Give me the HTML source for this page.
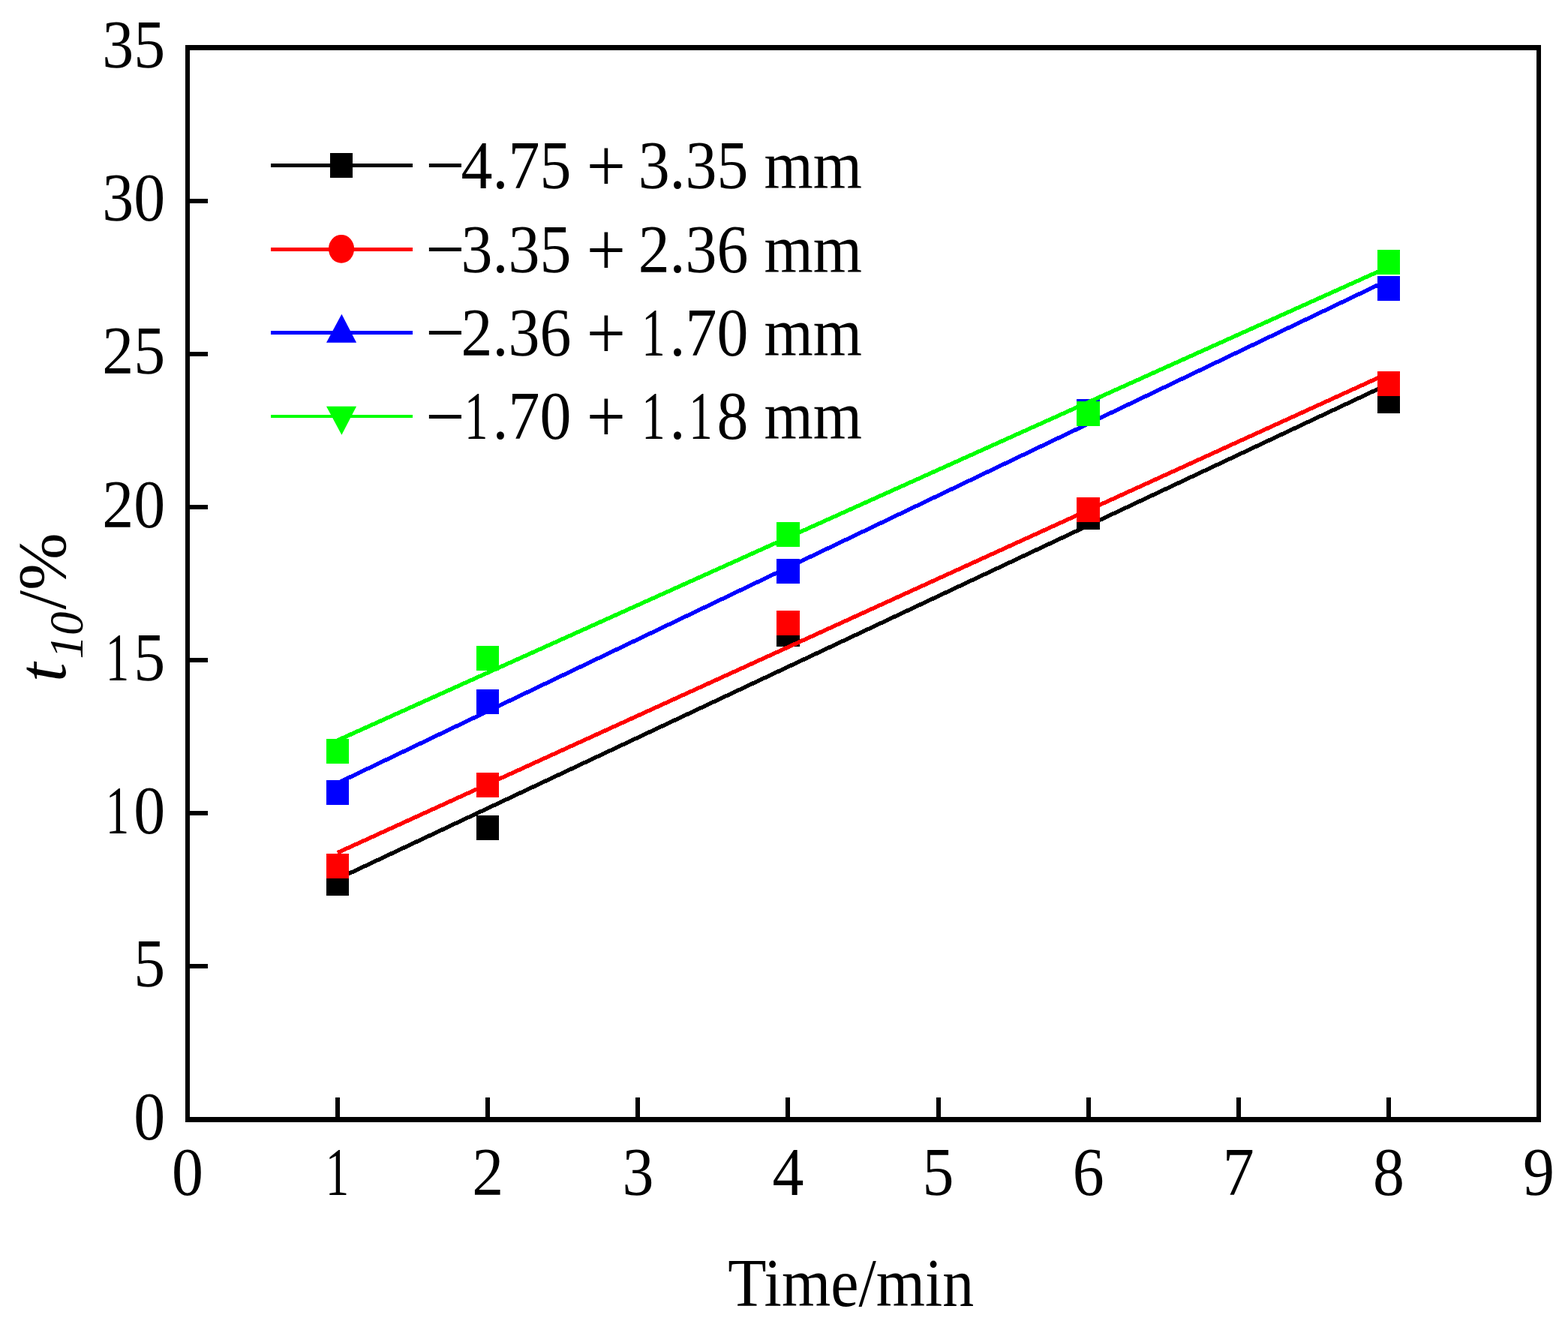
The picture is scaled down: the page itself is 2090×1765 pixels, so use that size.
<!DOCTYPE html><html><head><meta charset="utf-8"><title>t10 vs time</title><style>html,body{margin:0;padding:0;background:#fff;}svg{display:block;}text{font-family:"Liberation Serif","Times New Roman",serif;fill:#000;}</style></head><body>
<svg width="2090" height="1765" viewBox="0 0 2090 1765">
<rect x="0" y="0" width="2090" height="1765" fill="#fff"/>
<line x1="450" y1="1171.7" x2="1851" y2="511.9" stroke="#000000" stroke-width="5.4" shape-rendering="crispEdges"/>
<rect x="434.8" y="1160.9" width="30.5" height="32.8" fill="#000000" shape-rendering="crispEdges"/>
<rect x="634.8" y="1087.0" width="30.5" height="32.8" fill="#000000" shape-rendering="crispEdges"/>
<rect x="1035.2" y="828.9" width="30.5" height="32.8" fill="#000000" shape-rendering="crispEdges"/>
<rect x="1435.2" y="673.6" width="30.5" height="32.8" fill="#000000" shape-rendering="crispEdges"/>
<rect x="1835.8" y="517.9" width="30.5" height="32.8" fill="#000000" shape-rendering="crispEdges"/>
<line x1="450" y1="1136.7" x2="1851" y2="497.3" stroke="#ff0000" stroke-width="5.4" shape-rendering="crispEdges"/>
<rect x="434.8" y="1138.1" width="30.5" height="32.8" fill="#ff0000" shape-rendering="crispEdges"/>
<rect x="634.8" y="1030.0" width="30.5" height="32.8" fill="#ff0000" shape-rendering="crispEdges"/>
<rect x="1035.2" y="813.8" width="30.5" height="32.8" fill="#ff0000" shape-rendering="crispEdges"/>
<rect x="1435.2" y="663.0" width="30.5" height="32.8" fill="#ff0000" shape-rendering="crispEdges"/>
<rect x="1835.8" y="495.1" width="30.5" height="32.8" fill="#ff0000" shape-rendering="crispEdges"/>
<line x1="450" y1="1043.9" x2="1851" y2="373.1" stroke="#0000ff" stroke-width="5.4" shape-rendering="crispEdges"/>
<rect x="434.8" y="1040.1" width="30.5" height="32.8" fill="#0000ff" shape-rendering="crispEdges"/>
<rect x="634.8" y="919.0" width="30.5" height="32.8" fill="#0000ff" shape-rendering="crispEdges"/>
<rect x="1035.2" y="745.0" width="30.5" height="32.8" fill="#0000ff" shape-rendering="crispEdges"/>
<rect x="1435.2" y="532.0" width="30.5" height="32.8" fill="#0000ff" shape-rendering="crispEdges"/>
<rect x="1835.8" y="368.0" width="30.5" height="32.8" fill="#0000ff" shape-rendering="crispEdges"/>
<line x1="450" y1="986.9" x2="1851" y2="355.8" stroke="#00ff00" stroke-width="5.4" shape-rendering="crispEdges"/>
<rect x="434.8" y="985.0" width="30.5" height="32.8" fill="#00ff00" shape-rendering="crispEdges"/>
<rect x="634.8" y="861.1" width="30.5" height="32.8" fill="#00ff00" shape-rendering="crispEdges"/>
<rect x="1035.2" y="695.9" width="30.5" height="32.8" fill="#00ff00" shape-rendering="crispEdges"/>
<rect x="1435.2" y="535.0" width="30.5" height="32.8" fill="#00ff00" shape-rendering="crispEdges"/>
<rect x="1835.8" y="333.0" width="30.5" height="32.8" fill="#00ff00" shape-rendering="crispEdges"/>
<g fill="#000" shape-rendering="crispEdges">
<rect x="247" y="60" width="1807" height="7"/>
<rect x="247" y="1489" width="1807" height="7"/>
<rect x="247" y="60" width="6" height="1436"/>
<rect x="2048" y="60" width="6" height="1436"/>
<rect x="447.1" y="1463" width="6" height="27"/>
<rect x="647.2" y="1463" width="6" height="27"/>
<rect x="847.3" y="1463" width="6" height="27"/>
<rect x="1047.4" y="1463" width="6" height="27"/>
<rect x="1247.6" y="1463" width="6" height="27"/>
<rect x="1447.7" y="1463" width="6" height="27"/>
<rect x="1647.8" y="1463" width="6" height="27"/>
<rect x="1847.9" y="1463" width="6" height="27"/>
<rect x="252" y="1285.4" width="25" height="6"/>
<rect x="252" y="1081.2" width="25" height="6"/>
<rect x="252" y="877.1" width="25" height="6"/>
<rect x="252" y="672.9" width="25" height="6"/>
<rect x="252" y="468.8" width="25" height="6"/>
<rect x="252" y="264.6" width="25" height="6"/>
</g>
<text transform="matrix(0.912,0,0,1,178.2,1519.1)" font-size="92" text-anchor="start">0</text>
<text transform="matrix(0.912,0,0,1,178.2,1315.0)" font-size="92" text-anchor="start">5</text>
<text transform="matrix(0.912,0,0,1,136.3,1110.8)" font-size="92" text-anchor="start"><tspan dx="4.97" textLength="34.50" lengthAdjust="spacingAndGlyphs">1</tspan><tspan dx="6.53">0</tspan></text>
<text transform="matrix(0.912,0,0,1,136.3,906.7)" font-size="92" text-anchor="start"><tspan dx="4.97" textLength="34.50" lengthAdjust="spacingAndGlyphs">1</tspan><tspan dx="6.53">5</tspan></text>
<text transform="matrix(0.912,0,0,1,136.3,702.5)" font-size="92" text-anchor="start">20</text>
<text transform="matrix(0.912,0,0,1,136.3,498.4)" font-size="92" text-anchor="start">25</text>
<text transform="matrix(0.912,0,0,1,136.3,294.2)" font-size="92" text-anchor="start">30</text>
<text transform="matrix(0.912,0,0,1,136.3,90.1)" font-size="92" text-anchor="start">35</text>
<text transform="matrix(0.912,0,0,1,229.0,1593.0)" font-size="92" text-anchor="start">0</text>
<text transform="matrix(0.912,0,0,1,429.1,1593.0)" font-size="92" text-anchor="start"><tspan dx="4.97" textLength="34.50" lengthAdjust="spacingAndGlyphs">1</tspan></text>
<text transform="matrix(0.912,0,0,1,629.2,1593.0)" font-size="92" text-anchor="start">2</text>
<text transform="matrix(0.912,0,0,1,829.4,1593.0)" font-size="92" text-anchor="start">3</text>
<text transform="matrix(0.912,0,0,1,1029.5,1593.0)" font-size="92" text-anchor="start">4</text>
<text transform="matrix(0.912,0,0,1,1229.6,1593.0)" font-size="92" text-anchor="start">5</text>
<text transform="matrix(0.912,0,0,1,1429.7,1593.0)" font-size="92" text-anchor="start">6</text>
<text transform="matrix(0.912,0,0,1,1629.8,1593.0)" font-size="92" text-anchor="start">7</text>
<text transform="matrix(0.912,0,0,1,1829.9,1593.0)" font-size="92" text-anchor="start">8</text>
<text transform="matrix(0.912,0,0,1,2030.0,1593.0)" font-size="92" text-anchor="start">9</text>
<text transform="matrix(0.912,0,0,1,970.3,1741.3)" font-size="92" text-anchor="start">Time/min</text>
<text transform="translate(87.4,909) rotate(-90)" font-size="92"><tspan font-style="italic">t</tspan><tspan font-style="italic" font-size="63" dx="5" dy="23">10</tspan><tspan dx="3" dy="-23">/%</tspan></text>
<rect x="361" y="218.1" width="189" height="4.8" fill="#000000" shape-rendering="crispEdges"/>
<rect x="440" y="204.1" width="30" height="32.6" fill="#000000" shape-rendering="crispEdges"/>
<text transform="matrix(0.912,0,0,1,567.7,250.9)" font-size="92" text-anchor="start"><tspan font-size="101.6" dx="-0.5" dy="3.5">−</tspan><tspan dy="-3.5"><tspan dx="-5.40">4</tspan>.75 </tspan><tspan font-size="101.6" dx="-0.6" dy="3.8">+</tspan><tspan dy="-3.8"><tspan dx="-4.80"> </tspan>3.35 mm</tspan></text>
<rect x="361" y="330.1" width="189" height="4.8" fill="#ff0000" shape-rendering="crispEdges"/>
<ellipse cx="455" cy="331.8" rx="17.1" ry="18.9" fill="#ff0000"/>
<text transform="matrix(0.912,0,0,1,567.7,362.9)" font-size="92" text-anchor="start"><tspan font-size="101.6" dx="-0.5" dy="3.5">−</tspan><tspan dy="-3.5"><tspan dx="-5.40">3</tspan>.35 </tspan><tspan font-size="101.6" dx="-0.6" dy="3.8">+</tspan><tspan dy="-3.8"><tspan dx="-4.80"> </tspan>2.36 mm</tspan></text>
<rect x="361" y="441.0" width="189" height="4.8" fill="#0000ff" shape-rendering="crispEdges"/>
<polygon points="455.4,418.7 475.1,456.7 435,456.7" fill="#0000ff"/>
<text transform="matrix(0.912,0,0,1,567.7,473.8)" font-size="92" text-anchor="start"><tspan font-size="101.6" dx="-0.5" dy="3.5">−</tspan><tspan dy="-3.5"><tspan dx="-5.40">2</tspan>.36 </tspan><tspan font-size="101.6" dx="-0.6" dy="3.8">+</tspan><tspan dy="-3.8"><tspan dx="-4.80"> </tspan><tspan dx="4.97" textLength="34.50" lengthAdjust="spacingAndGlyphs">1</tspan><tspan dx="6.53">.</tspan>70 mm</tspan></text>
<rect x="361" y="552.8" width="189" height="4.0" fill="#00ff00" shape-rendering="crispEdges"/>
<polygon points="435,541.8 475.1,541.8 455.4,579.7" fill="#00ff00"/>
<text transform="matrix(0.912,0,0,1,567.7,585.2)" font-size="92" text-anchor="start"><tspan font-size="101.6" dx="-0.5" dy="3.5">−</tspan><tspan dy="-3.5"><tspan dx="-0.43" textLength="34.50" lengthAdjust="spacingAndGlyphs">1</tspan><tspan dx="6.53">.</tspan>70 </tspan><tspan font-size="101.6" dx="-0.6" dy="3.8">+</tspan><tspan dy="-3.8"><tspan dx="-4.80"> </tspan><tspan dx="4.97" textLength="34.50" lengthAdjust="spacingAndGlyphs">1</tspan><tspan dx="6.53">.</tspan><tspan dx="4.97" textLength="34.50" lengthAdjust="spacingAndGlyphs">1</tspan><tspan dx="6.53">8</tspan> mm</tspan></text>
</svg></body></html>
